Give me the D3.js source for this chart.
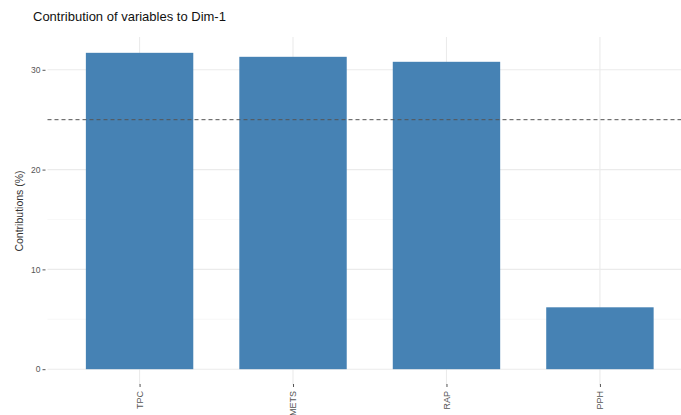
<!DOCTYPE html>
<html><head><meta charset="utf-8">
<script src="https://cdn.jsdelivr.net/npm/d3@7"></script>
<style>body{margin:0;background:#fff}svg{display:block;font-family:"Liberation Sans",Arial,sans-serif}</style>
</head><body><svg id="c" width="681" height="415"></svg>
<script>
const categories = ["TPC", "METS", "RAP", "PPH"];
const contributions = [31.7, 31.3, 30.8, 6.2];
const yTicks = [0, 10, 20, 30];
const yMinor = [5, 15, 25];
const refValue = 25;
const title = "Contribution of variables to Dim-1";
const yTitle = "Contributions (%)";

const svg = d3.select("#c");
const panel = {left: 47.5, right: 692, top: 37, bottom: 385};
const maxV = d3.max(contributions);
const y = d3.scaleLinear().domain([-maxV*0.05, maxV*1.05]).range([panel.bottom, panel.top]);
// ggplot discrete expansion 0.6 of step, bar width 0.7
const step = (panel.right - panel.left) / (categories.length - 1 + 1.2);
const xc = d3.scalePoint().domain(categories).range([panel.left + 0.6*step, panel.right - 0.6*step]);
const bw = 0.7 * step;

const g = svg.append("g");
g.selectAll(".ym").data(yMinor).join("line")
  .attr("x1", panel.left).attr("x2", panel.right)
  .attr("y1", d => y(d)).attr("y2", d => y(d))
  .attr("stroke", "#f2f2f2").attr("stroke-width", 0.6);
g.selectAll(".yM").data(yTicks).join("line")
  .attr("x1", panel.left).attr("x2", panel.right)
  .attr("y1", d => y(d)).attr("y2", d => y(d))
  .attr("stroke", "#ebebeb").attr("stroke-width", 1.1);
g.selectAll(".xM").data(categories).join("line")
  .attr("x1", d => xc(d)).attr("x2", d => xc(d))
  .attr("y1", panel.top).attr("y2", panel.bottom)
  .attr("stroke", "#ebebeb").attr("stroke-width", 1.1);

g.selectAll(".bar").data(categories).join("rect")
  .attr("x", d => xc(d) - bw/2).attr("width", bw)
  .attr("y", (d,i) => y(contributions[i]))
  .attr("height", (d,i) => y(0) - y(contributions[i]))
  .attr("fill", "#4682B4");

g.append("line")
  .attr("x1", panel.left).attr("x2", panel.right)
  .attr("y1", y(refValue)).attr("y2", y(refValue))
  .attr("stroke", "#555").attr("stroke-width", 1).attr("stroke-dasharray", "4,3");

const yAxis = d3.axisLeft(y).tickValues(yTicks).tickSize(3).tickPadding(2);
const ya = svg.append("g").attr("transform", `translate(${panel.left - 2},0)`).call(yAxis);
ya.select(".domain").remove();
ya.selectAll("line").attr("stroke", "#555");
ya.selectAll("text").attr("fill", "#555").style("font-size", "8.5px");

const xAxis = d3.axisBottom(xc).tickSize(3).tickPadding(2);
const xa = svg.append("g").attr("transform", `translate(0,${panel.bottom - 1})`).call(xAxis);
xa.select(".domain").remove();
xa.selectAll("line").attr("stroke", "#555");
xa.selectAll("text").attr("fill", "#555").style("font-size", "9px")
  .attr("transform", "rotate(-90)").attr("text-anchor", "end")
  .attr("x", -7).attr("y", 0).attr("dy", "0.32em");

svg.append("text").attr("x", 33).attr("y", 21).attr("fill", "#111")
  .style("font-size", "13px").text(title);
svg.append("text").attr("transform", `translate(23,${(panel.top+panel.bottom)/2}) rotate(-90)`)
  .attr("text-anchor", "middle").attr("fill", "#333").style("font-size", "10.5px").text(yTitle);
</script></body></html>
